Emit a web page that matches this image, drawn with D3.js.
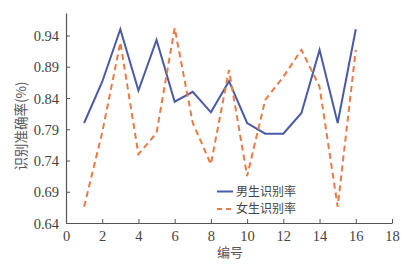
<!DOCTYPE html>
<html>
<head>
<meta charset="utf-8">
<script src="https://cdn.jsdelivr.net/npm/d3@7"></script>
<style>
  body { margin: 0; background: #fff; }
  svg { display: block; }
</style>
</head>
<body>
<svg id="chart" width="415" height="268"></svg>
<script>
// 数据
const ids    = d3.range(1, 17);
const male   = [0.80, 0.866, 0.950, 0.852, 0.933, 0.834, 0.850, 0.817, 0.867, 0.800, 0.783, 0.783, 0.816, 0.917, 0.800, 0.950];
const female = [0.666, 0.785, 0.929, 0.750, 0.784, 0.952, 0.800, 0.734, 0.885, 0.715, 0.837, 0.874, 0.917, 0.858, 0.666, 0.917];
const xTicks = d3.range(0, 19, 2);
const yTicks = [0.64, 0.69, 0.74, 0.79, 0.84, 0.89, 0.94];
const seriesNames = ["男生识别率", "女生识别率"];

const blue = "#4a5aa6", orange = "#ea7a45";
const axisColor = "#555";

const svg = d3.select("#chart");
const x = d3.scaleLinear().domain([0, 18]).range([66, 392]);
const y = d3.scaleLinear().domain([0.64, 0.976]).range([223, 13]);

// 坐标轴
const xAxis = svg.append("g")
  .attr("transform", "translate(0,223)")
  .call(d3.axisBottom(x).tickValues(xTicks).tickSizeInner(-4).tickSizeOuter(0).tickPadding(6));
const yAxis = svg.append("g")
  .attr("transform", "translate(66,0)")
  .call(d3.axisLeft(y).tickValues(yTicks).tickFormat(d3.format(".2f")).tickSizeInner(-4).tickSizeOuter(0).tickPadding(4));

[xAxis, yAxis].forEach(g => {
  g.attr("font-family", null).attr("font-size", null);
  g.select(".domain").attr("stroke", axisColor).attr("stroke-width", 1.2);
  g.selectAll(".tick line").attr("stroke", axisColor);
  g.selectAll("text")
    .attr("fill", "#444")
    .style("font-family", "'Liberation Serif', 'Times New Roman', serif")
    .style("font-size", "14.5px");
});
yAxis.selectAll("text").attr("dx", "-3").attr("dy", "0.35em");
xAxis.selectAll("text").attr("dy", "0.85em");

// 轴标题
svg.append("text")
  .attr("x", 230).attr("y", 257)
  .attr("text-anchor", "middle")
  .style("font-family", "'Noto Sans CJK SC', sans-serif")
  .style("font-size", "13px").attr("fill", "#555")
  .text("编号");

svg.append("text")
  .attr("transform", "translate(26,126) rotate(-90)")
  .attr("text-anchor", "middle")
  .style("font-family", "'Noto Sans CJK SC', sans-serif")
  .style("font-size", "13.5px").attr("fill", "#555")
  .text("识别准确率(%)");

// 折线
const line = d3.line().x((d, i) => x(ids[i])).y(d => y(d));

svg.append("path")
  .datum(male)
  .attr("d", line)
  .attr("fill", "none")
  .attr("stroke", blue)
  .attr("stroke-width", 2);

svg.append("path")
  .datum(female)
  .attr("d", line)
  .attr("fill", "none")
  .attr("stroke", orange)
  .attr("stroke-width", 2)
  .attr("stroke-dasharray", "6,4");

// 图例
const legend = svg.append("g").attr("transform", "translate(217,191.5)");
seriesNames.forEach((name, i) => {
  const row = legend.append("g").attr("transform", `translate(0,${i * 17.5})`);
  row.append("line")
    .attr("x1", 0).attr("x2", 16).attr("y1", 0).attr("y2", 0)
    .attr("stroke", i === 0 ? blue : orange)
    .attr("stroke-width", 2)
    .attr("stroke-dasharray", i === 0 ? null : "5,4");
  row.append("text")
    .attr("x", 19).attr("y", 0).attr("dy", "0.36em")
    .style("font-family", "'Noto Sans CJK SC', sans-serif")
    .style("font-size", "12px").attr("fill", "#444")
    .text(name);
});
</script>
</body>
</html>
